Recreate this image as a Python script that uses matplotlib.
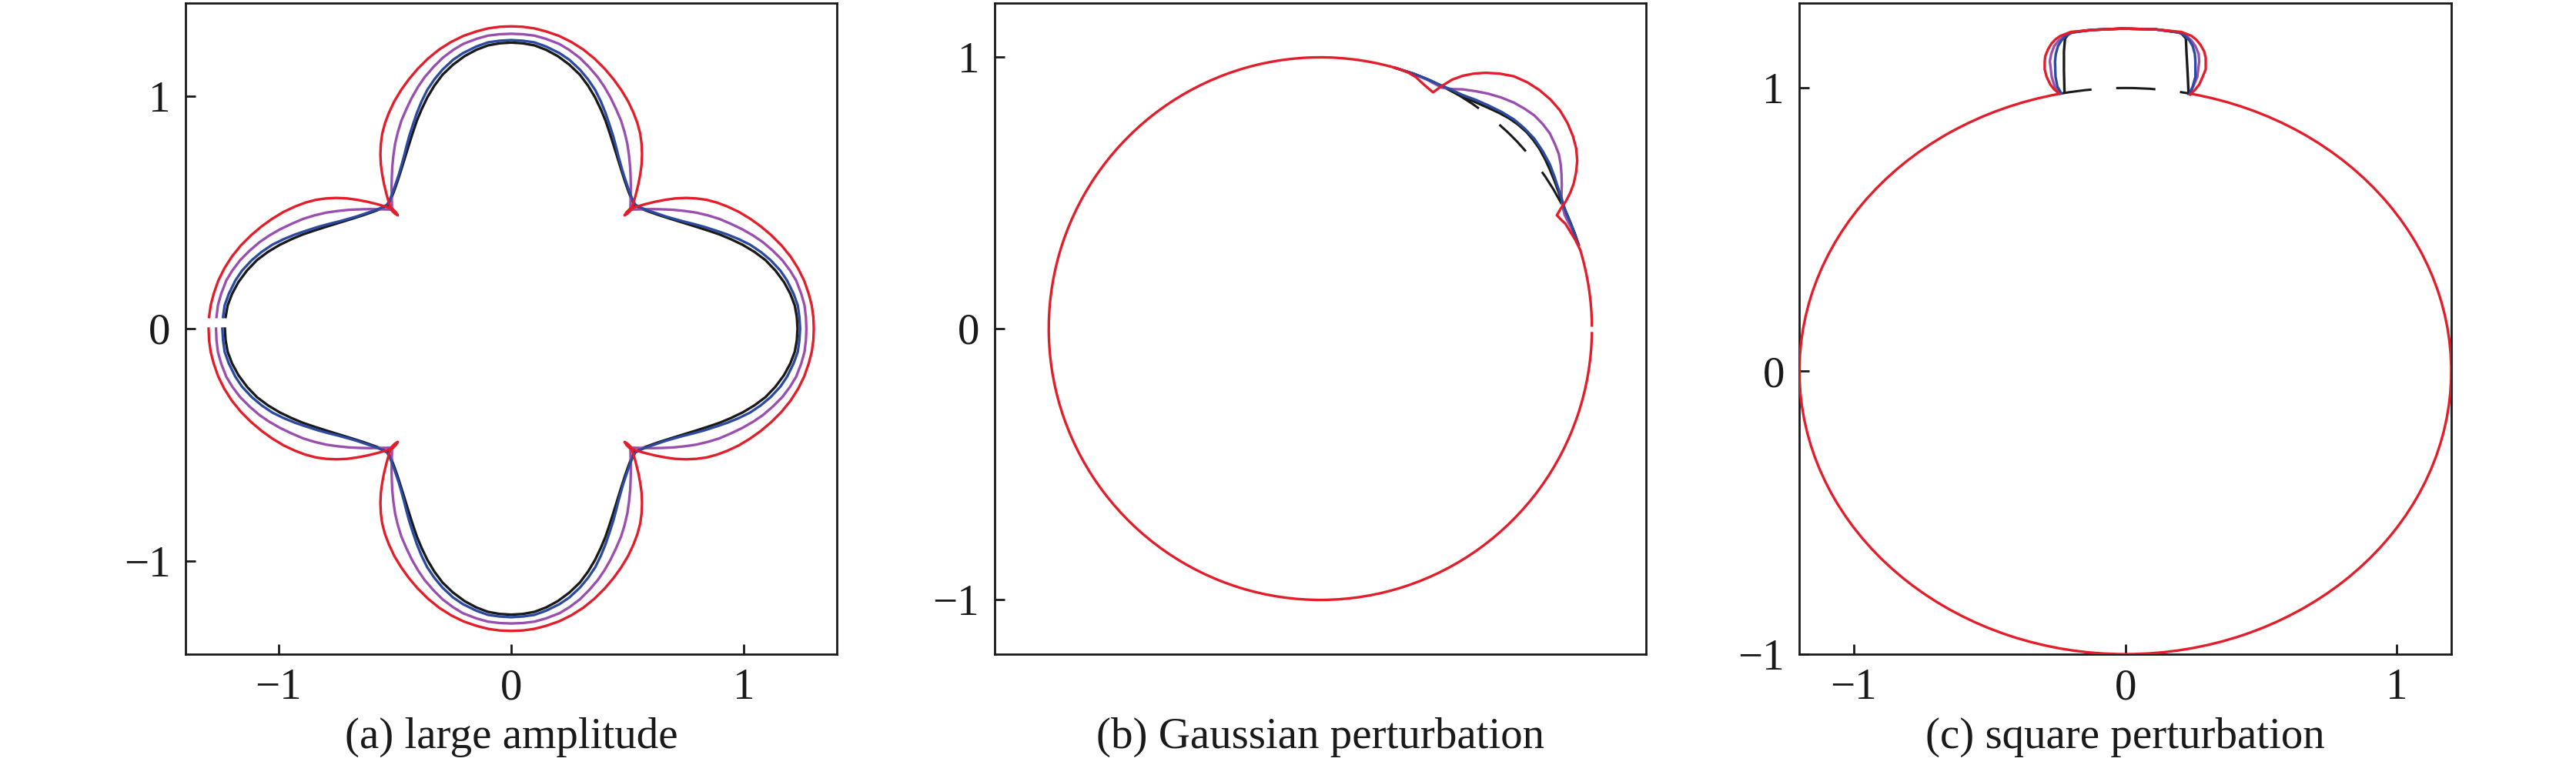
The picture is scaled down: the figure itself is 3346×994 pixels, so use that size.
import numpy as np
import matplotlib
matplotlib.use("Agg")
import matplotlib.pyplot as plt
from matplotlib.patches import Arc

plt.rcParams['font.family'] = ['Liberation Serif', 'DejaVu Serif']
plt.rcParams['axes.unicode_minus'] = True

BLACK = "#1a1a1a"
BLUE = "#2b4aa0"
PURPLE = "#9a4fae"
RED = "#e31e2a"

captions = ["(a) large amplitude", "(b) Gaussian perturbation", "(c) square perturbation"]

# ---- (a) large amplitude: one octant of the top lobe, from x = 0 to the diagonal
a_black_x = [0.000, 0.050, 0.100, 0.150, 0.200, 0.250, 0.295, 0.330, 0.360, 0.385,
             0.405, 0.422, 0.438, 0.455, 0.472, 0.488, 0.502, 0.516, 0.530]
a_black_y = [1.230, 1.227, 1.218, 1.199, 1.172, 1.135, 1.092, 1.045, 0.995, 0.943,
             0.895, 0.845, 0.795, 0.740, 0.685, 0.635, 0.595, 0.558, 0.530]
a_blue_x = [0.000, 0.050, 0.100, 0.150, 0.207, 0.250, 0.295, 0.330, 0.361, 0.385, 0.405,
            0.422, 0.438, 0.450, 0.461, 0.472, 0.483, 0.495, 0.506, 0.519, 0.533]
a_blue_y = [1.241, 1.238, 1.231, 1.213, 1.185, 1.156, 1.114, 1.072, 1.026, 0.977, 0.928,
            0.878, 0.828, 0.784, 0.740, 0.700, 0.662, 0.626, 0.594, 0.560, 0.533]
a_purple_x = [0.000, 0.050, 0.100, 0.150, 0.207, 0.250, 0.295, 0.335, 0.372, 0.400, 0.427,
              0.450, 0.472, 0.487, 0.499, 0.506, 0.511, 0.513, 0.514, 0.513, 0.512]
a_purple_y = [1.268, 1.266, 1.260, 1.246, 1.224, 1.198, 1.164, 1.124, 1.081, 1.040, 0.993,
              0.945, 0.894, 0.845, 0.794, 0.745, 0.695, 0.650, 0.607, 0.560, 0.512]
a_red_x = [0.000, 0.050, 0.100, 0.150, 0.205, 0.258, 0.310, 0.358, 0.402, 0.440, 0.473, 0.502,
           0.525, 0.542, 0.554, 0.560, 0.562, 0.560, 0.554, 0.546, 0.535, 0.525, 0.515, 0.500, 0.487]
a_red_y = [1.300, 1.298, 1.291, 1.278, 1.259, 1.233, 1.200, 1.161, 1.117, 1.072, 1.026, 0.978,
           0.929, 0.884, 0.839, 0.795, 0.750, 0.705, 0.662, 0.620, 0.575, 0.540, 0.510, 0.495, 0.487]

# ---- (b) Gaussian perturbation: bump part of each curve (rest lies on the unit circle)
b_black_x = [0.276, 0.342, 0.407, 0.469, 0.524, 0.573, 0.618, 0.657, 0.694, 0.727, 0.760,
             0.785, 0.807, 0.828, 0.845, 0.863, 0.878, 0.889, 0.902, 0.921, 0.940, 0.951]
b_black_y = [0.961, 0.940, 0.914, 0.883, 0.855, 0.834, 0.814, 0.796, 0.776, 0.753, 0.724,
             0.694, 0.663, 0.624, 0.587, 0.543, 0.502, 0.469, 0.436, 0.391, 0.342, 0.309]
b_blue_x = [0.276, 0.342, 0.391, 0.423, 0.479, 0.524, 0.573, 0.618, 0.667, 0.713, 0.753,
            0.788, 0.819, 0.845, 0.863, 0.878, 0.891, 0.902, 0.927, 0.951]
b_blue_y = [0.961, 0.940, 0.921, 0.906, 0.882, 0.861, 0.843, 0.823, 0.799, 0.771, 0.737,
            0.700, 0.654, 0.606, 0.558, 0.511, 0.470, 0.436, 0.375, 0.309]
b_purple_x = [0.276, 0.342, 0.398, 0.448, 0.486, 0.524, 0.573, 0.618, 0.666, 0.713, 0.753, 0.788,
              0.819, 0.845, 0.863, 0.878, 0.885, 0.888, 0.889, 0.888, 0.891, 0.900, 0.923, 0.951]
b_purple_y = [0.961, 0.940, 0.915, 0.888, 0.883, 0.882, 0.875, 0.866, 0.852, 0.833, 0.810, 0.786,
              0.754, 0.720, 0.682, 0.644, 0.606, 0.568, 0.530, 0.493, 0.454, 0.418, 0.373, 0.309]
b_red_x = [0.259, 0.287, 0.325, 0.352, 0.382, 0.415, 0.448, 0.486, 0.524, 0.565, 0.609, 0.660,
           0.713, 0.762, 0.806, 0.847, 0.882, 0.910, 0.930, 0.942, 0.946, 0.942, 0.933, 0.920,
           0.904, 0.885, 0.871, 0.886, 0.902, 0.920, 0.939, 0.956]
b_red_y = [0.966, 0.958, 0.943, 0.927, 0.899, 0.871, 0.895, 0.918, 0.932, 0.940, 0.943, 0.940,
           0.930, 0.908, 0.880, 0.845, 0.805, 0.758, 0.710, 0.665, 0.620, 0.577, 0.535, 0.500,
           0.469, 0.442, 0.418, 0.402, 0.387, 0.358, 0.327, 0.292]
b_red_arcs = [(75.0, 359.3), (0.4, 17.0)]   # red circle outside the bump (degrees)
b_dash_arc = (20.0, 70.0)                   # initial circle, dashed

# ---- (c) square perturbation on the ellipse x^2/1.2^2 + y^2 = 1
c_black_x = [-0.224, -0.226, -0.226, -0.222, -0.205, -0.125, -0.011, 0.112, 0.205, 0.223, 0.225, 0.229, 0.233]
c_black_y = [0.985, 1.060, 1.130, 1.175, 1.195, 1.205, 1.210, 1.207, 1.195, 1.175, 1.130, 1.060, 0.980]
c_blue_x = [-0.236, -0.250, -0.257, -0.259, -0.256, -0.248, -0.235, -0.219, -0.195, -0.125, -0.011,
            0.112, 0.195, 0.220, 0.236, 0.248, 0.256, 0.258, 0.258, 0.248, 0.236]
c_blue_y = [0.981, 1.005, 1.039, 1.094, 1.120, 1.148, 1.168, 1.184, 1.197, 1.205, 1.210,
            1.207, 1.197, 1.184, 1.168, 1.148, 1.120, 1.094, 1.039, 1.005, 0.979]
c_purple_x = [-0.240, -0.260, -0.271, -0.278, -0.273, -0.262, -0.245, -0.224, -0.200, -0.125, -0.011,
              0.112, 0.200, 0.225, 0.243, 0.258, 0.270, 0.272, 0.265, 0.250, 0.237]
c_purple_y = [0.980, 1.005, 1.039, 1.094, 1.120, 1.148, 1.168, 1.184, 1.196, 1.205, 1.210,
              1.207, 1.196, 1.184, 1.168, 1.148, 1.120, 1.094, 1.039, 1.005, 0.978]
c_red_x = [-0.243, -0.262, -0.276, -0.290, -0.297, -0.297, -0.295, -0.285, -0.272, -0.257, -0.239, -0.201,
           -0.125, -0.011, 0.112, 0.206, 0.244, 0.262, 0.277, 0.290, 0.296, 0.296, 0.285, 0.272, 0.256, 0.239]
c_red_y = [0.980, 0.995, 1.012, 1.040, 1.066, 1.090, 1.112, 1.136, 1.157, 1.172, 1.184, 1.198,
           1.205, 1.210, 1.207, 1.198, 1.184, 1.170, 1.152, 1.130, 1.107, 1.066, 1.040, 1.012, 0.993, 0.977]
c_red_arc = (104.0, 76.3)
c_dash_arc = (76.5, 103.5)


def full_curve(ox, oy):
    ox, oy = np.asarray(ox), np.asarray(oy)
    # quarter from (0, r) to (r, 0): the octant and its mirror in y = x
    qx = np.concatenate([ox, oy[::-1]])
    qy = np.concatenate([oy, ox[::-1]])
    x = np.concatenate([-qx[::-1], qx, qx[::-1], -qx])
    y = np.concatenate([-qy[::-1], -qy, qy[::-1], qy])
    # left open at (-r, 0) like the original
    return x[:-1], y[:-1]


fig = plt.figure(figsize=(16.73, 4.97), dpi=200)
W = 0.25302
H = 0.85111
ax_a = fig.add_axes([0.07194, 0.14487, W, H])
ax_b = fig.add_axes([0.38604, 0.14487, W, H])
ax_c = fig.add_axes([0.69854, 0.14487, W, H])

lw = 1.2

# (a)
for (ox, oy), col, z in [((a_black_x, a_black_y), BLACK, 2), ((a_purple_x, a_purple_y), PURPLE, 3),
                         ((a_blue_x, a_blue_y), BLUE, 4), ((a_red_x, a_red_y), RED, 5)]:
    x, y = full_curve(ox, oy)
    ax_a.plot(x, y, color=col, lw=lw, zorder=z, solid_joinstyle='round')
ax_a.set_xlim(-1.4, 1.4)
ax_a.set_ylim(-1.4, 1.4)
ax_a.set_xticks([-1, 0, 1])
ax_a.set_yticks([-1, 0, 1])

# (b)
ax_b.add_patch(Arc((0, 0), 2, 2, theta1=b_dash_arc[0], theta2=b_dash_arc[1], color=BLACK,
                   lw=1.1, ls=(12.3, (16.0, 11.1)), zorder=1))
ax_b.plot(b_black_x, b_black_y, color=BLACK, lw=lw, zorder=2)
ax_b.plot(b_purple_x, b_purple_y, color=PURPLE, lw=lw, zorder=3)
ax_b.plot(b_blue_x, b_blue_y, color=BLUE, lw=lw, zorder=4)
ax_b.plot(b_red_x, b_red_y, color=RED, lw=lw, zorder=5)
for t1, t2 in b_red_arcs:
    ax_b.add_patch(Arc((0, 0), 2, 2, theta1=t1, theta2=t2, color=RED, lw=lw, zorder=5))
ax_b.set_xlim(-1.2, 1.2)
ax_b.set_ylim(-1.2, 1.2)
ax_b.set_xticks([])
ax_b.set_yticks([-1, 0, 1])

# (c)
ax_c.add_patch(Arc((0, 0), 2.4, 2, theta1=c_dash_arc[0], theta2=c_dash_arc[1], color=BLACK,
                   lw=1.1, ls=(12.7, (16.7, 10.5)), zorder=1))
ax_c.plot(c_black_x, c_black_y, color=BLACK, lw=lw, zorder=2)
ax_c.plot(c_purple_x, c_purple_y, color=PURPLE, lw=lw, zorder=3)
ax_c.plot(c_blue_x, c_blue_y, color=BLUE, lw=lw, zorder=4)
ax_c.plot(c_red_x, c_red_y, color=RED, lw=lw, zorder=5)
ax_c.add_patch(Arc((0, 0), 2.4, 2, theta1=c_red_arc[0], theta2=c_red_arc[1], color=RED, lw=lw, zorder=5))
ax_c.set_xlim(-1.2, 1.2)
ax_c.set_ylim(-1.0, 1.3)
ax_c.set_xticks([-1, 0, 1])
ax_c.set_yticks([-1, 0, 1])

for ax, cap in zip([ax_a, ax_b, ax_c], captions):
    ax.tick_params(direction='in', length=4.8, width=1.0, labelsize=20.5, colors=BLACK)
    ax.tick_params(axis='x', pad=6.5)
    ax.tick_params(axis='y', pad=7)
    for s in ax.spines.values():
        s.set_linewidth(1.0)
        s.set_color(BLACK)
    pos = ax.get_position()
    fig.text(pos.x0 + pos.width / 2, 0.022, cap, ha='center', va='baseline', fontsize=20.5, color=BLACK)

fig.savefig("out.png", dpi=200)
